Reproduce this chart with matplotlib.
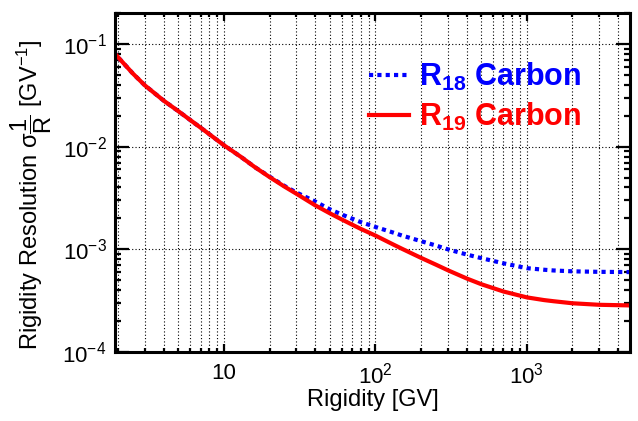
import numpy as np
import matplotlib
matplotlib.use("Agg")
import matplotlib.pyplot as plt
from matplotlib.ticker import FixedLocator, FixedFormatter, LogLocator, NullFormatter

plt.rcParams['font.family'] = ['Liberation Sans', 'DejaVu Sans']
plt.rcParams['mathtext.fontset'] = 'custom'
plt.rcParams['mathtext.rm'] = 'Liberation Sans'
plt.rcParams['mathtext.it'] = 'Liberation Sans'
plt.rcParams['mathtext.bf'] = 'Liberation Sans:bold'

# rigidity grid [GV]
rigidity = [1.86, 2, 2.5, 3, 4, 5, 6, 7, 8, 10, 13, 16, 20, 25, 30, 40, 50, 60,
            70, 80, 100, 130, 150, 200, 250, 300, 400, 500, 700, 1000, 1300,
            1500, 2000, 3000, 4800]
# resolution of 1/R [GV^-1]
res_r18 = [0.084, 0.0740, 0.0515, 0.0395, 0.0280, 0.0221, 0.0181, 0.0153, 0.0132,
           0.0103, 0.0079, 0.0063, 0.0051, 0.00415, 0.00358, 0.00292, 0.00245,
           0.00218, 0.00199, 0.00184, 0.00165, 0.00146, 0.00136, 0.00120,
           0.00109, 0.00100, 0.00089, 0.00082, 0.00073, 0.000655, 0.000632,
           0.000622, 0.000610, 0.000603, 0.000600]
res_r19 = [0.084, 0.0740, 0.0515, 0.0395, 0.0280, 0.0221, 0.0181, 0.0153, 0.0132,
           0.0103, 0.0079, 0.0063, 0.00505, 0.00409, 0.00348, 0.00268, 0.00224,
           0.00195, 0.00174, 0.00158, 0.00136, 0.00112, 0.00101, 0.000825,
           0.00071, 0.000626, 0.00052, 0.000457, 0.000388, 0.00034, 0.00032,
           0.000312, 0.000298, 0.000288, 0.000284]

fig = plt.figure(figsize=(6.38, 4.21), dpi=100)
ax = fig.add_axes([0.180, 0.164, 0.8075, 0.805])

ax.plot(rigidity, res_r18, color='#0000ff', lw=3, ls=(0, (1, 1)),
        label=r'$\mathbf{R_{18}}$ Carbon')
ax.plot(rigidity, res_r19, color='#ff0000', lw=3,
        label=r'$\mathbf{R_{19}}$ Carbon')

ax.set_xscale('log')
ax.set_yscale('log')
ax.set_xlim(1.9, 4800)
ax.set_ylim(1e-4, 0.2)

ax.xaxis.set_major_locator(FixedLocator([10, 100, 1000]))
ax.xaxis.set_major_formatter(FixedFormatter(['10', r'10$^{2}$', r'10$^{3}$']))
ax.xaxis.set_minor_locator(LogLocator(base=10, subs=np.arange(2, 10), numticks=20))
ax.xaxis.set_minor_formatter(NullFormatter())
ax.yaxis.set_major_locator(FixedLocator([1e-4, 1e-3, 1e-2, 1e-1]))
ax.yaxis.set_major_formatter(FixedFormatter([r'10$^{-4}$', r'10$^{-3}$',
                                             r'10$^{-2}$', r'10$^{-1}$']))
ax.yaxis.set_minor_locator(LogLocator(base=10, subs=np.arange(2, 10), numticks=20))
ax.yaxis.set_minor_formatter(NullFormatter())

ax.grid(True, which='both', axis='x', color='black', ls=(0, (1, 2)), lw=0.8)
ax.grid(True, which='major', axis='y', color='black', ls=(0, (1, 2)), lw=0.8)

for s in ax.spines.values():
    s.set_linewidth(2.2)
ax.tick_params(axis='both', which='both', direction='in', top=True, right=True,
               labelsize=16, width=1.6)
ax.tick_params(axis='x', which='major', length=6, pad=8)
ax.tick_params(axis='x', which='minor', length=3)
ax.tick_params(axis='y', which='major', length=10, pad=6)
ax.tick_params(axis='y', which='minor', length=4.5)

ax.set_xlabel('Rigidity [GV]', fontsize=17, labelpad=0)
ax.set_ylabel(r'Rigidity Resolution σ$\dfrac{1}{R}$ [GV$^{-1}$]', fontsize=17)
ax.yaxis.set_label_coords(-0.118, 0.465)

leg = ax.legend(loc='upper left', bbox_to_anchor=(0.44, 0.94), frameon=False,
                prop={'weight': 'bold', 'size': 22}, labelcolor='linecolor',
                handlelength=1.3, handletextpad=0.35, labelspacing=0.25)

fig.savefig('out.png', dpi=100)
